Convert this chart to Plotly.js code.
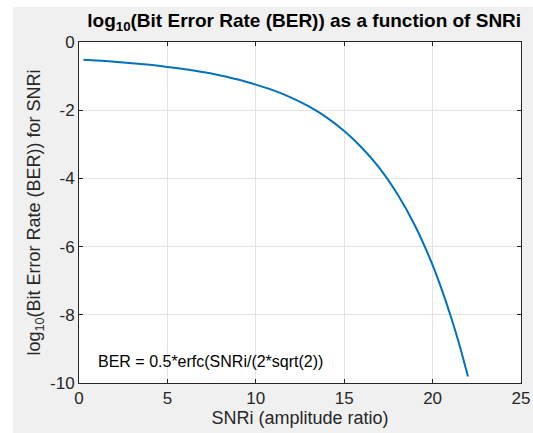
<!DOCTYPE html>
<html>
<head>
<meta charset="utf-8">
<script src="https://cdn.plot.ly/plotly-3.0.1.min.js"></script>
<style>
html,body{margin:0;padding:0;background:#ffffff;}
#plot{position:absolute;left:13px;top:7px;width:520px;height:426px;}
</style>
</head>
<body>
<div id="plot"></div>
<script>
// SNRi values (x) and log10(BER) values (y)
const snri = [0.25, 1, 2, 3, 4, 5, 6, 7, 8, 9, 10, 11, 12, 13, 14, 15, 16, 17, 18, 19, 20, 20.5, 21, 21.5, 22];
const logBer = [-0.52, -0.54, -0.58, -0.62, -0.67, -0.73, -0.80, -0.88, -0.98, -1.10, -1.25, -1.42, -1.63, -1.89, -2.21, -2.61, -3.10, -3.70, -4.45, -5.38, -6.54, -7.23, -8.00, -8.85, -9.81];
const xTicks = [0, 5, 10, 15, 20, 25];
const yTicks = [0, -2, -4, -6, -8, -10];

const axisColor = '#262626';
const fontFam = 'Liberation Sans, Arial, Helvetica, sans-serif';

const trace = {
  x: snri, y: logBer, type: 'scatter', mode: 'lines',
  line: {color: '#0072BD', width: 2, shape: 'spline', smoothing: 0.6},
  hoverinfo: 'skip'
};

const layout = {
  width: 520, height: 426,
  margin: {l: 66, r: 12, t: 35, b: 50},
  paper_bgcolor: '#f0f0f0',
  plot_bgcolor: '#ffffff',
  showlegend: false,
  font: {family: fontFam, color: axisColor},
  title: {
    text: '<b>log<sub>10</sub>(Bit Error Rate (BER)) as a function of SNRi</b>',
    font: {size: 19, color: '#000000', family: fontFam},
    x: 0.56, xanchor: 'center', y: 0.985, yanchor: 'top'
  },
  xaxis: {
    range: [0, 25], tickvals: xTicks, ticktext: xTicks.map(String),
    ticks: 'inside', ticklen: 4, tickcolor: axisColor, tickwidth: 1,
    showline: true, linecolor: axisColor, linewidth: 1, mirror: 'ticks',
    showgrid: true, gridcolor: '#e3e3e3', gridwidth: 1, zeroline: false,
    tickfont: {size: 17, color: axisColor},
    title: {text: 'SNRi (amplitude ratio)', font: {size: 18, color: axisColor}, standoff: 2}
  },
  yaxis: {
    range: [-10, 0], tickvals: yTicks, ticktext: yTicks.map(String),
    ticks: 'inside', ticklen: 4, tickcolor: axisColor, tickwidth: 1,
    showline: true, linecolor: axisColor, linewidth: 1, mirror: 'ticks',
    showgrid: true, gridcolor: '#e3e3e3', gridwidth: 1, zeroline: false,
    tickfont: {size: 17, color: axisColor},
    title: {text: 'log<sub>10</sub>(Bit Error Rate (BER)) for SNRi', font: {size: 18, color: axisColor}, standoff: 4}
  },
  annotations: [{
    x: 0.95, y: -9.38, xref: 'x', yref: 'y', xanchor: 'left', yanchor: 'middle',
    text: 'BER = 0.5*erfc(SNRi/(2*sqrt(2))', showarrow: false,
    font: {size: 16, color: '#000000', family: fontFam}
  }]
};

Plotly.newPlot('plot', [trace], layout, {displayModeBar: false, staticPlot: true});
</script>
</body>
</html>
